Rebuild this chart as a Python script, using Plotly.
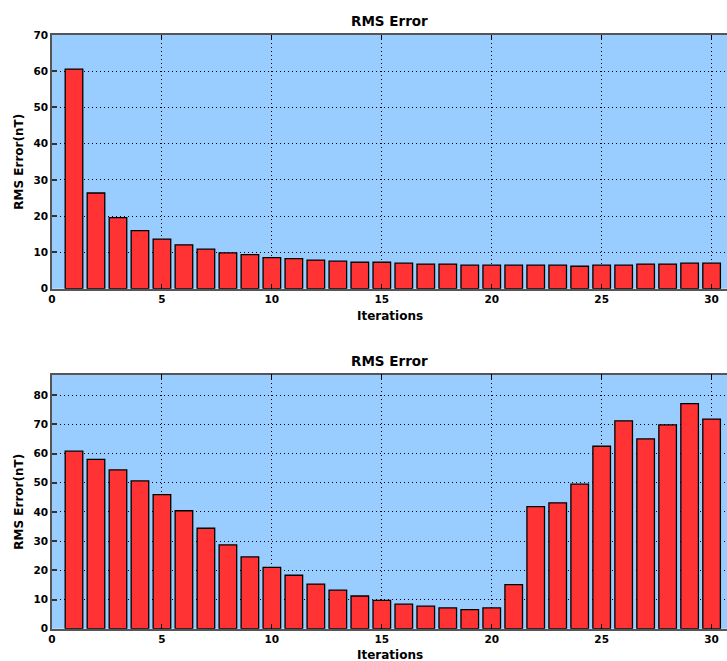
import plotly.graph_objects as go

iterations = list(range(1, 31))
rms_top = [60.6, 26.4, 19.6, 16.0, 13.7, 12.1, 10.9, 9.9, 9.4, 8.6,
           8.3, 7.9, 7.6, 7.3, 7.3, 7.05, 6.8, 6.8, 6.5, 6.5,
           6.5, 6.5, 6.5, 6.2, 6.5, 6.5, 6.8, 6.8, 7.05, 7.05]
rms_bottom = [60.8, 58.0, 54.4, 50.6, 45.9, 40.4, 34.4, 28.7, 24.6, 21.0,
              18.3, 15.3, 13.2, 11.2, 9.7, 8.4, 7.7, 7.1, 6.5, 7.1,
              15.1, 41.8, 43.1, 49.5, 62.5, 71.2, 65.0, 69.8, 77.1, 71.8]
x_ticks = [0, 5, 10, 15, 20, 25, 30]
y_ticks_top = [0, 10, 20, 30, 40, 50, 60, 70]
y_ticks_bottom = [0, 10, 20, 30, 40, 50, 60, 70, 80]
title_text = "RMS Error"
x_label = "Iterations"
y_label = "RMS Error(nT)"

W, H = 727, 661
FONT = "DejaVu Sans"
BAR_COLOR = "#FF3333"
BG = "#99CCFF"
DOT = "1px,3px"

def py(p):
    return (H - p) / H

fig = go.Figure()
bar_style = dict(marker=dict(color=BAR_COLOR, line=dict(color="black", width=1.3)),
                 width=0.8, showlegend=False, hoverinfo="x+y")
fig.add_trace(go.Bar(x=iterations, y=rms_top, xaxis="x", yaxis="y", **bar_style))
fig.add_trace(go.Bar(x=iterations, y=rms_bottom, xaxis="x2", yaxis="y2", **bar_style))

tickfont = dict(family=FONT, size=10.5, color="black", weight="bold")

def xaxis(anchor):
    return dict(anchor=anchor, domain=[0, 1], range=[0, 30.7], tickvals=x_ticks,
                ticks="inside", ticklen=5, tickcolor="black", tickwidth=1,
                showline=True, linecolor="#555555", linewidth=1.5, mirror="ticks",
                showgrid=True, gridcolor="black", griddash=DOT, gridwidth=1,
                zeroline=False, tickfont=tickfont, automargin=False)

def yaxis(anchor, dom, rng, tv):
    return dict(anchor=anchor, domain=dom, range=rng, tickvals=tv,
                ticks="inside", ticklen=5, tickcolor="#333333", tickwidth=1.5,
                showline=True, linecolor="#555555", linewidth=1.5, mirror=False,
                showgrid=True, gridcolor="black", griddash=DOT, gridwidth=1,
                zeroline=False, tickfont=tickfont, automargin=False)

fig.update_layout(
    width=W, height=H,
    margin=dict(l=52, r=0, t=0, b=0),
    paper_bgcolor="white", plot_bgcolor=BG,
    bargap=0.2,
    xaxis=xaxis("y"),
    yaxis=yaxis("x", [py(288.7), py(35)], [0, 70], y_ticks_top),
    xaxis2=xaxis("y2"),
    yaxis2=yaxis("x2", [py(628.7), py(374.7)], [0, 87], y_ticks_bottom),
)

ann = []
lab_font = dict(family=FONT, size=12, color="black", weight="bold")
ttl_font = dict(family=FONT, size=13.5, color="black", weight="bold")
for tpix, xlpix, ycen in [(21, 316, 161.7), (360.5, 655, 501.7)]:
    ann.append(dict(text=title_text, xref="paper", yref="paper", x=0.5, y=py(tpix),
                    xanchor="center", yanchor="middle", showarrow=False, font=ttl_font))
    ann.append(dict(text=x_label, xref="paper", yref="paper", x=0.5, y=py(xlpix),
                    xanchor="center", yanchor="middle", showarrow=False, font=lab_font))
    ann.append(dict(text=y_label, xref="paper", yref="paper", x=(19 - 52) / (W - 52),
                    y=py(ycen), xanchor="center", yanchor="middle", textangle=-90,
                    showarrow=False, font=lab_font))
fig.update_layout(annotations=ann)

fig.write_html("out.html", config={"displayModeBar": False},
               post_script="document.documentElement.style.margin='0px';document.body.style.margin='0px';")
